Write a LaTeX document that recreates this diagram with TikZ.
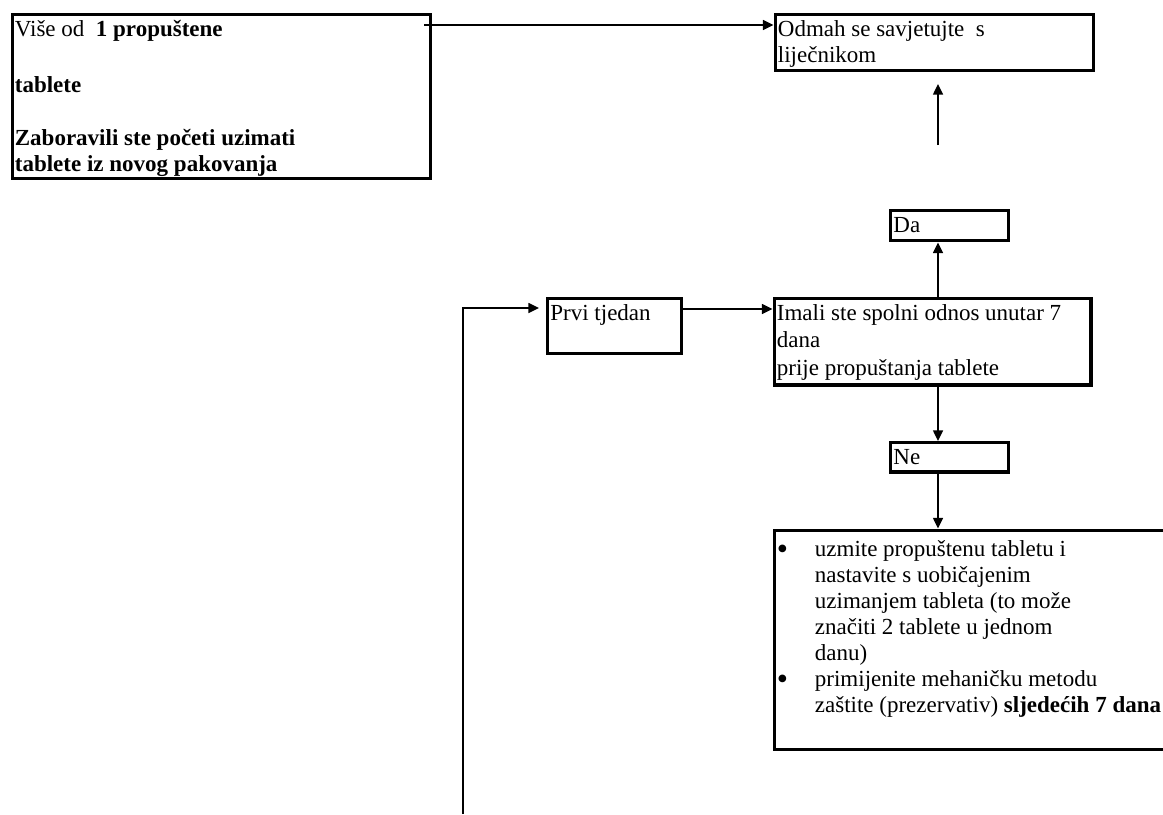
\documentclass[tikz,border=0pt]{standalone}
\usepackage{fontspec}
\setmainfont{Liberation Serif}
\usetikzlibrary{arrows.meta}

\newcommand{\boxtext}[3]{\parbox[t][#2][t]{#1}{\raggedright\rule{0pt}{0.7\baselineskip}#3}}
\newcommand{\bul}{\makebox[0pt][r]{\makebox[28.5pt][l]{\raisebox{-2pt}{\fontsize{24pt}{24pt}\selectfont\textbullet}}}}

\begin{document}
\begin{tikzpicture}[x=0.75pt, y=-0.75pt,
  card/.style={draw, line width=2.6pt, anchor=north west, inner xsep=2pt, inner ysep=3pt,
    font=\fontsize{17.25pt}{19.5pt}\selectfont},
  link/.style={-{Triangle[length=8pt,width=7.5pt]}, line width=1.1pt}]
  \useasboundingbox (0,0) rectangle (1163,814);
  \clip (0,0) rectangle (1163,814);

  \node[card] (Vise)  at (10.5,12.5)   {\boxtext{309.5pt}{117pt}{Više od\ \ \textbf{1 propuštene}\\[22.5pt]
    \textbf{tablete}\\[20.25pt]
    \textbf{Zaboravili ste početi uzimati}\\
    \textbf{tablete iz novog pakovanja}}};
  \node[card] (Odmah) at (773.5,12.5)  {\boxtext{234.5pt}{36pt}{Odmah se savjetujte\ \ s\\liječnikom}};
  \node[card] (Da)    at (889,209)     {\boxtext{84.5pt}{16.5pt}{Da}};
  \node[card] (Prvi)  at (546,296.5)   {\boxtext{96.5pt}{35.25pt}{Prvi tjedan}};
  \node[card] (Imali) at (772.5,296.5) {\boxtext{233.4pt}{58.9pt}{Imali ste spolni odnos unutar 7\\[1pt]
    dana\\[1pt]
    prije propuštanja tablete}};
  \node[card] (Ne)    at (889,441)     {\boxtext{84.5pt}{16pt}{Ne}};
  \node[card] (Upute) at (772.5,528.5) {\boxtext{301.6pt}{158.25pt}{\leftskip=28.5pt
    \rule{0pt}{17pt}\bul uzmite propuštenu tabletu i\\
    nastavite s uobičajenim\\
    uzimanjem tableta (to može\\
    značiti 2 tablete u jednom\\
    danu)\\
    \bul primijenite mehaničku metodu\\
    zaštite (prezervativ) \textbf{sljedećih 7 dana}}};

  % Connect the nodes
  \coordinate (col)  at (938,0);
  \coordinate (a1)   at (424,25);
  \coordinate (up1)  at (938,145);
  \coordinate (up2)  at (938,84);
  \coordinate (r1)   at (680,309);
  \coordinate (loop) at (463,814);
  \coordinate (r2)   at (539,308);
  \draw[link] (a1) -- (a1 -| Odmah.west);
  \draw[link] (up1) -- (up2);
  \draw[link] (col |- Imali.north) -- (col |- Da.south);
  \draw[link] (col |- Imali.south) -- (col |- Ne.north);
  \draw[link] (col |- Ne.south) -- (col |- Upute.north);
  \draw[link] (r1) -- (r1 -| Imali.west);
  \draw[link] (loop) |- (r2);
\end{tikzpicture}
\end{document}
